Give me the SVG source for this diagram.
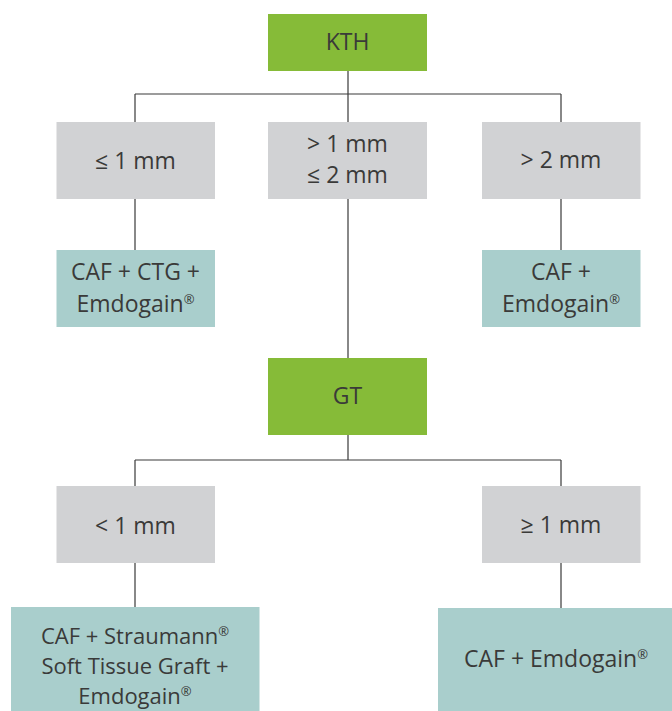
<svg xmlns="http://www.w3.org/2000/svg" width="672" height="711" viewBox="0 0 672 711">
<style>
.g{fill:#86BB38}.c{fill:#D1D2D4}.t{fill:#A9CECC}
text{font-family:"Open Sans","Liberation Sans",sans-serif;font-size:23px;fill:#3A3A39;text-anchor:middle}
.s{font-size:22px}
.r{font-size:13px}
#connectors path{stroke:#3A3A3A;stroke-width:1.2;fill:none}
</style>
<rect width="672" height="711" fill="#fff"/>
<g id="connectors">
<path d="M348 71V94M135 94H561M135 94V122M348 94V122M561 94V122"/>
<path d="M135 199V250M561 199V250M348 199V358"/>
<path d="M348 435V460M135 460H561M135 460V486M561 460V486"/>
<path d="M135 563V607M561 563V608"/>
</g>
<g id="kth"><rect class="g" x="268" y="14" width="159" height="57"/><text x="347.5" y="50">KTH</text></g>
<g id="le1"><rect class="c" x="56.5" y="122" width="158.5" height="77"/><text x="135.5" y="169">≤ 1 mm</text></g>
<g id="gt1le2"><rect class="c" x="268" y="122" width="159" height="77"/><text x="347.5" y="152">&gt; 1 mm</text><text x="347.5" y="183">≤ 2 mm</text></g>
<g id="gt2"><rect class="c" x="482" y="122" width="158.5" height="77"/><text x="561" y="168">&gt; 2 mm</text></g>
<g id="caf-ctg"><rect class="t" x="56.5" y="250" width="158.5" height="77"/><text x="135.5" y="280">CAF + CTG +</text><text x="135.5" y="311.5">Emdogain<tspan class="r" dy="-8">®</tspan></text></g>
<g id="caf-emd1"><rect class="t" x="482" y="250" width="158.5" height="77"/><text x="561" y="280">CAF +</text><text x="561" y="311.5">Emdogain<tspan class="r" dy="-8">®</tspan></text></g>
<g id="gt"><rect class="g" x="268" y="358" width="159" height="77"/><text x="347.5" y="404">GT</text></g>
<g id="lt1"><rect class="c" x="56.5" y="486" width="158.5" height="77"/><text x="135.5" y="534">&lt; 1 mm</text></g>
<g id="ge1"><rect class="c" x="482" y="486" width="158.5" height="77"/><text x="561" y="533">≥ 1 mm</text></g>
<g id="caf-stg"><rect class="t" x="11" y="607" width="248.5" height="104"/><text class="s" x="135" y="644">CAF + Straumann<tspan class="r" dy="-8">®</tspan></text><text class="s" x="135" y="674">Soft Tissue Graft +</text><text class="s" x="135" y="704">Emdogain<tspan class="r" dy="-8">®</tspan></text></g>
<g id="caf-emd2"><rect class="t" x="438" y="608" width="234" height="103"/><text x="556" y="667">CAF + Emdogain<tspan class="r" dy="-8">®</tspan></text></g>
</svg>
